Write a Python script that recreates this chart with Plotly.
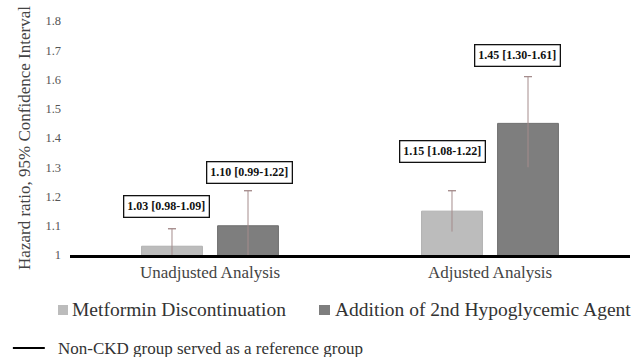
import plotly.graph_objects as go

categories = ["Unadjusted Analysis", "Adjusted Analysis"]
series_names = ["Metformin Discontinuation", "Addition of 2nd Hypoglycemic Agent"]
metformin_hr = [1.03, 1.15]
metformin_lo = [0.98, 1.08]
metformin_hi = [1.09, 1.22]
agent_hr = [1.10, 1.45]
agent_lo = [0.99, 1.30]
agent_hi = [1.22, 1.61]
y_ticks = [1, 1.1, 1.2, 1.3, 1.4, 1.5, 1.6, 1.7, 1.8]
y_tick_labels = ["1", "1.1", "1.2", "1.3", "1.4", "1.5", "1.6", "1.7", "1.8"]

FONT = "Liberation Serif"
colors = ["#bcbcbc", "#7e7e7e"]
edge = ["#b0b0b0", "#6e6e6e"]
groups = ["m", "a"]
WHISKER = "#a58c8c"

fig = go.Figure()
series = [(metformin_hr, metformin_lo, metformin_hi), (agent_hr, agent_lo, agent_hi)]
for i, (hr, lo, hi) in enumerate(series):
    fig.add_trace(go.Bar(
        x=categories, y=hr, name=series_names[i], offsetgroup=groups[i],
        marker=dict(color=colors[i], line=dict(color=edge[i], width=1)),
        showlegend=False,
    ))
# confidence interval whiskers: stem without caps + cap only at the upper end
for i, (hr, lo, hi) in enumerate(series):
    fig.add_trace(go.Bar(
        x=categories, y=hi, offsetgroup=groups[i], showlegend=False,
        marker=dict(color="rgba(0,0,0,0)", line=dict(width=0)), hoverinfo="skip",
        error_y=dict(type="data", symmetric=False,
                     array=[0 for _ in hi],
                     arrayminus=[h - l for h, l in zip(hi, lo)],
                     color=WHISKER, thickness=1, width=0),
    ))
    fig.add_trace(go.Bar(
        x=categories, y=hi, offsetgroup=groups[i], showlegend=False,
        marker=dict(color="rgba(0,0,0,0)", line=dict(width=0)), hoverinfo="skip",
        error_y=dict(type="data", symmetric=False,
                     array=[0 for _ in hi],
                     arrayminus=[0.0005 for _ in hi],
                     color=WHISKER, thickness=1, width=4),
    ))

# labels above bars (pixel offsets from the upper CI end)
label_dx = [[-44, -48], [39, 27]]
label_dy = [[22, 39], [18, 21]]
for i, (hr, lo, hi) in enumerate(series):
    for j, c in enumerate(categories):
        fig.add_annotation(
            x=c, y=hi[j], xref="x", yref="y",
            text=f"<b>{hr[j]:.2f} [{lo[j]:.2f}-{hi[j]:.2f}]</b>",
            showarrow=False, xshift=label_dx[i][j], yshift=label_dy[i][j],
            font=dict(family=FONT, size=12, color="#111"),
            bordercolor="#111", borderwidth=1.3, borderpad=3, bgcolor="white",
        )

# legend (drawn as squares + text, in paper coordinates)
legend_sq_x = [(-0.0214, -0.0036), (0.4446, 0.4643)]
legend_tx_x = [-0.0005, 0.4705]
for i, name in enumerate(series_names):
    fig.add_shape(type="rect", xref="paper", yref="paper",
                  x0=legend_sq_x[i][0], x1=legend_sq_x[i][1], y0=-0.2137, y1=-0.2564,
                  fillcolor=colors[i], line=dict(width=0))
    fig.add_annotation(xref="paper", yref="paper", x=legend_tx_x[i], y=-0.235,
                       xanchor="left", yanchor="middle", showarrow=False, text=name,
                       font=dict(family=FONT, size=19.5, color="#333"))

# footer reference line + text
fig.add_shape(type="line", xref="paper", yref="paper",
              x0=-0.102, x1=-0.045, y0=-0.397, y1=-0.397,
              line=dict(color="black", width=2))
fig.add_annotation(xref="paper", yref="paper", x=-0.025, y=-0.40,
                   xanchor="left", yanchor="middle", showarrow=False,
                   text="Non-CKD group served as a reference group",
                   font=dict(family=FONT, size=17, color="#333"))

fig.update_layout(
    width=635, height=357,
    margin=dict(l=70, r=5, t=21, b=102),
    paper_bgcolor="white", plot_bgcolor="white",
    barmode="group", bargap=0.457, bargroupgap=0.2,
    font=dict(family=FONT, color="#444"),
    showlegend=False,
    xaxis=dict(showline=True, linecolor="black", linewidth=2.5,
               tickfont=dict(family=FONT, size=17, color="#444"),
               ticks="", showgrid=False),
    yaxis=dict(range=[1, 1.8], tickvals=y_ticks, ticktext=y_tick_labels,
               showgrid=False, zeroline=False, showline=False, ticks="",
               tickfont=dict(family=FONT, size=12.5, color="#555"),
               ticklabelstandoff=8,
               title=dict(text="Hazard ratio, 95% Confidence Interval",
                          font=dict(family=FONT, size=17, color="#444"), standoff=10)),
)

fig.write_html("out.html", config={"displayModeBar": False},
               post_script="document.body.style.margin='0';")
